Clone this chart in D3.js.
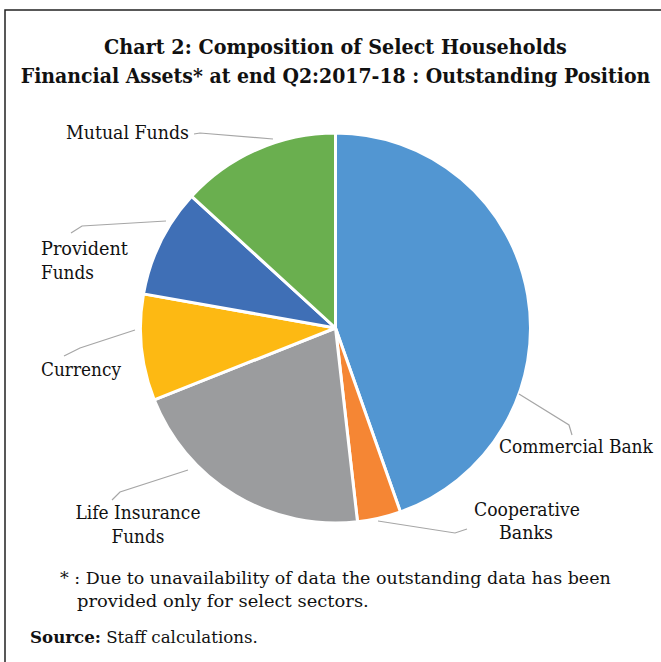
<!DOCTYPE html>
<html>
<head>
<meta charset="utf-8">
<script src="https://cdn.jsdelivr.net/npm/d3@7"></script>
<style>
  html, body { margin: 0; padding: 0; background: #fff; }
  svg text { font-family: "DejaVu Serif", "Liberation Serif", serif; fill: #111; }
</style>
</head>
<body>
<svg id="chart" width="661" height="662"></svg>
<script>
// slice data, clockwise from 12 o'clock
var categories = ["Commercial Bank", "Cooperative Banks", "Life Insurance Funds",
                  "Currency", "Provident Funds", "Mutual Funds"];
var shares = [44.6, 3.6, 20.8, 8.8, 9.0, 13.2];
var colors = ["#5296d2", "#f58634", "#9b9c9e", "#fdb913", "#3f6fb6", "#6aaf4f"];

var titleLines = ["Chart 2: Composition of Select Households",
                  "Financial Assets* at end Q2:2017-18 : Outstanding Position"];
var noteLines = ["* : Due to unavailability of data the outstanding data has been",
                 "provided only for select sectors."];

// label layout: text lines [text, x, baseline, width] and leader polyline
var labelLayout = {
  "Commercial Bank":      {lines: [["Commercial Bank", 499, 453, 154]], anchor: "start",
                           leader: [[519,394],[569,425],[572,435]]},
  "Cooperative Banks":    {lines: [["Cooperative", 527, 516, 106], ["Banks", 526, 539, 54]], anchor: "middle",
                           leader: [[378,521],[455,533],[467,529]]},
  "Life Insurance Funds": {lines: [["Life Insurance", 138, 519, 125], ["Funds", 138, 543, 53]], anchor: "middle",
                           leader: [[112,500],[120,492],[188,470]]},
  "Currency":             {lines: [["Currency", 41, 376, 80]], anchor: "start",
                           leader: [[64,356],[80,348],[135,330]]},
  "Provident Funds":      {lines: [["Provident", 41, 255, 87], ["Funds", 41, 279, 53]], anchor: "start",
                           leader: [[71,233],[82,226],[166,221]]},
  "Mutual Funds":         {lines: [["Mutual Funds", 66, 139, 123]], anchor: "start",
                           leader: [[194,134],[200,133],[273,139]]}
};

var svg = d3.select("#chart");

// squeeze a text horizontally to a given width around its anchor point
function fitText(t, x, y, w, anchor) {
  t.attr("x", 0).attr("y", 0).attr("text-anchor", anchor);
  var nat = t.node().getComputedTextLength();
  var k = nat > 0 ? w / nat : 1;
  t.attr("transform", "translate(" + x + "," + y + ") scale(" + k + ",1)");
  return t;
}

// frame (top and left edges visible)
svg.append("path")
   .attr("d", "M5,662 L5,10 L661,10")
   .attr("fill", "none")
   .attr("stroke", "#222")
   .attr("stroke-width", 1.5);

// title
titleLines.forEach(function(d, i) {
  var t = svg.append("text")
     .attr("font-size", "19.5px")
     .attr("font-weight", "bold")
     .text(d);
  fitText(t, 335.5, 54 + i * 29, i == 0 ? 463 : 630, "middle");
});

// pie
var cx = 335.5, cy = 328, radius = 195;

var pie = d3.pie().sort(null).value(function(d) { return d; });
var arc = d3.arc().innerRadius(0).outerRadius(radius);
var color = d3.scaleOrdinal().domain(categories).range(colors);

var g = svg.append("g").attr("transform", "translate(" + cx + "," + cy + ")");

g.selectAll(".slice")
 .data(pie(shares))
 .enter().append("path")
 .attr("class", "slice")
 .attr("d", arc)
 .attr("fill", function(d, i) { return color(categories[i]); })
 .attr("stroke", "#fff")
 .attr("stroke-width", 3)
 .attr("stroke-linejoin", "round");

// leader lines + labels
var line = d3.line();
categories.forEach(function(c) {
  var lay = labelLayout[c];
  svg.append("path")
     .attr("d", line(lay.leader))
     .attr("fill", "none")
     .attr("stroke", "#a6a6a6")
     .attr("stroke-width", 1.2);
  lay.lines.forEach(function(l) {
    var t = svg.append("text").attr("font-size", "18.5px").text(l[0]);
    fitText(t, l[1], l[2], l[3], lay.anchor);
  });
});

// footnote
fitText(svg.append("text").attr("font-size", "17.5px").text(noteLines[0]), 60, 584, 551, "start");
fitText(svg.append("text").attr("font-size", "17.5px").text(noteLines[1]), 77, 607, 292, "start");

var src = svg.append("text").attr("font-size", "17.5px");
src.append("tspan").attr("font-weight", "bold").text("Source:");
src.append("tspan").text(" Staff calculations.");
fitText(src, 30, 643, 228, "start");
</script>
</body>
</html>
